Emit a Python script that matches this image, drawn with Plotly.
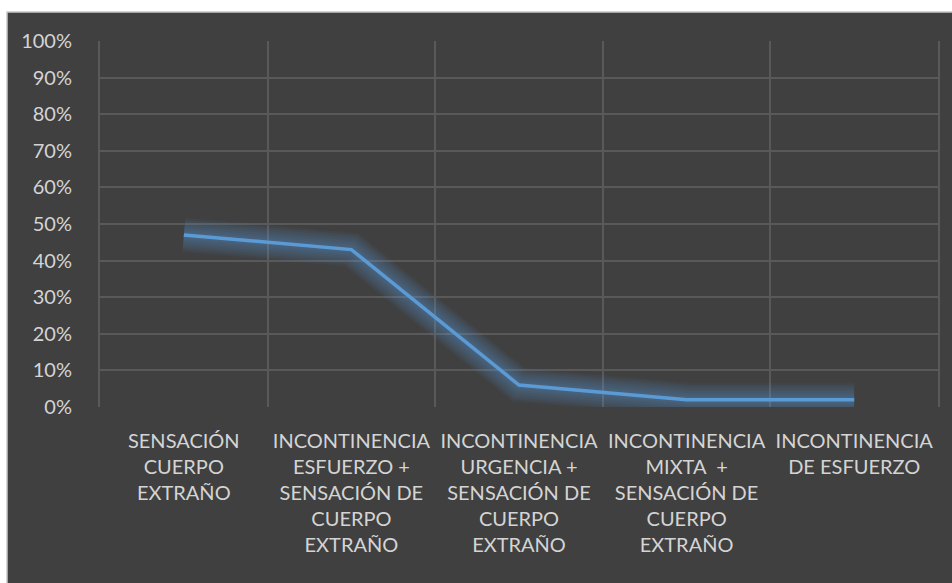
import plotly.graph_objects as go

categories = [
    "SENSACIÓN<br>CUERPO<br>EXTRAÑO",
    "INCONTINENCIA<br>ESFUERZO +<br>SENSACIÓN DE<br>CUERPO<br>EXTRAÑO",
    "INCONTINENCIA<br>URGENCIA +<br>SENSACIÓN DE<br>CUERPO<br>EXTRAÑO",
    "INCONTINENCIA<br>MIXTA  +<br>SENSACIÓN DE<br>CUERPO<br>EXTRAÑO",
    "INCONTINENCIA<br>DE ESFUERZO",
]
values = [47, 43, 6, 2, 2]
y_ticks = list(range(0, 101, 10))
y_labels = [f"{v}%" for v in y_ticks]

BG = "#404040"
GRID = "#595959"
TEXT = "#d4d4d4"
LINE = "#5b9bd5"
FONT = "Lato"

W, H = 952, 583
ML, MR, MT, MB = 100, 14, 41, 176
pw = W - ML - MR
ph = H - MT - MB

fig = go.Figure()

# soft glow layers
for w in [34, 30, 26, 22, 18, 14, 10, 7]:
    fig.add_trace(go.Scatter(
        x=categories, y=values, mode="lines",
        line=dict(color="rgba(91,155,213,0.065)", width=w, shape="linear"),
        hoverinfo="skip", showlegend=False,
    ))

fig.add_trace(go.Scatter(
    x=categories, y=values, mode="lines",
    line=dict(color=LINE, width=3.5),
    showlegend=False,
))

# dark chart panel with light border
fig.add_shape(
    type="rect", xref="paper", yref="paper", layer="below",
    x0=(7 - ML) / pw, x1=(W + 20 - ML) / pw,
    y0=-(MB + 20) / ph, y1=(ph + MT - 12) / ph,
    fillcolor=BG, line=dict(color="#c8c8c8", width=1.5),
)

fig.update_layout(
    width=W, height=H,
    margin=dict(l=ML, r=MR, t=MT, b=MB),
    paper_bgcolor="white",
    plot_bgcolor=BG,
    font=dict(family=FONT, color=TEXT, size=20),
    xaxis=dict(
        type="category",
        tickson="boundaries",
        showgrid=True, gridcolor=GRID, gridwidth=2,
        showline=True, linecolor=BG, linewidth=3,
        ticks="", ticklabelstandoff=14,
        tickfont=dict(family=FONT, color=TEXT, size=20),
        range=[-0.5, 4.5],
    ),
    yaxis=dict(
        range=[0, 100],
        tickmode="array", tickvals=y_ticks, ticktext=y_labels,
        showgrid=True, gridcolor=GRID, gridwidth=2,
        zeroline=False,
        showline=True, linecolor=GRID, linewidth=2, mirror=True,
        ticks="", ticklabelstandoff=22,
        tickfont=dict(family=FONT, color=TEXT, size=20),
    ),
)

fig.write_html(
    "out.html",
    config={"displayModeBar": False},
    post_script="document.body.style.margin='0';document.body.style.overflow='hidden';",
)
